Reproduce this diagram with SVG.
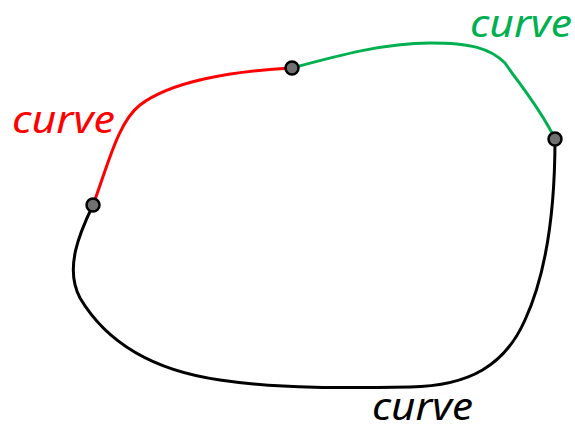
<svg xmlns="http://www.w3.org/2000/svg" width="575" height="425" viewBox="0 0 575 425">
<style>
.c{fill:none;stroke-width:3;stroke-linecap:round}
.p{fill:#707070;stroke:#000;stroke-width:2.5}
.t{font-family:"Noto Sans","Open Sans",sans-serif;font-style:italic;font-size:38px}
</style>
<rect width="575" height="425" fill="#fff"/>
<g id="connectors">
<path class="c" stroke="#ff0000" d="M93,205 C108,165 118,122 140,105 C170,82 230,71 292,68"/>
<path class="c" stroke="#00b050" d="M292,68 C340,55 385,43 430,43 C470,43 490,48 505,63 C520,85 540,108 555,139"/>
<path class="c" stroke="#000" d="M93,205 C80,232 64,268 80,298 C105,340 150,370 220,380 C280,389 350,388 410,387 C470,386 505,365 525,320 C548,270 555,200 555,139"/>
</g>
<g id="labels">
<text class="t" fill="#ff0000" x="12" y="133" textLength="103" lengthAdjust="spacingAndGlyphs">curve</text>
<text class="t" fill="#00b050" x="470" y="37" textLength="102" lengthAdjust="spacingAndGlyphs">curve</text>
<text class="t" fill="#000" x="372" y="420" textLength="101" lengthAdjust="spacingAndGlyphs">curve</text>
</g>
<g id="p1"><circle class="p" cx="93" cy="205" r="6.5"/></g>
<g id="p2"><circle class="p" cx="292" cy="68" r="6.5"/></g>
<g id="p3"><circle class="p" cx="555" cy="139" r="6.5"/></g>
</svg>
